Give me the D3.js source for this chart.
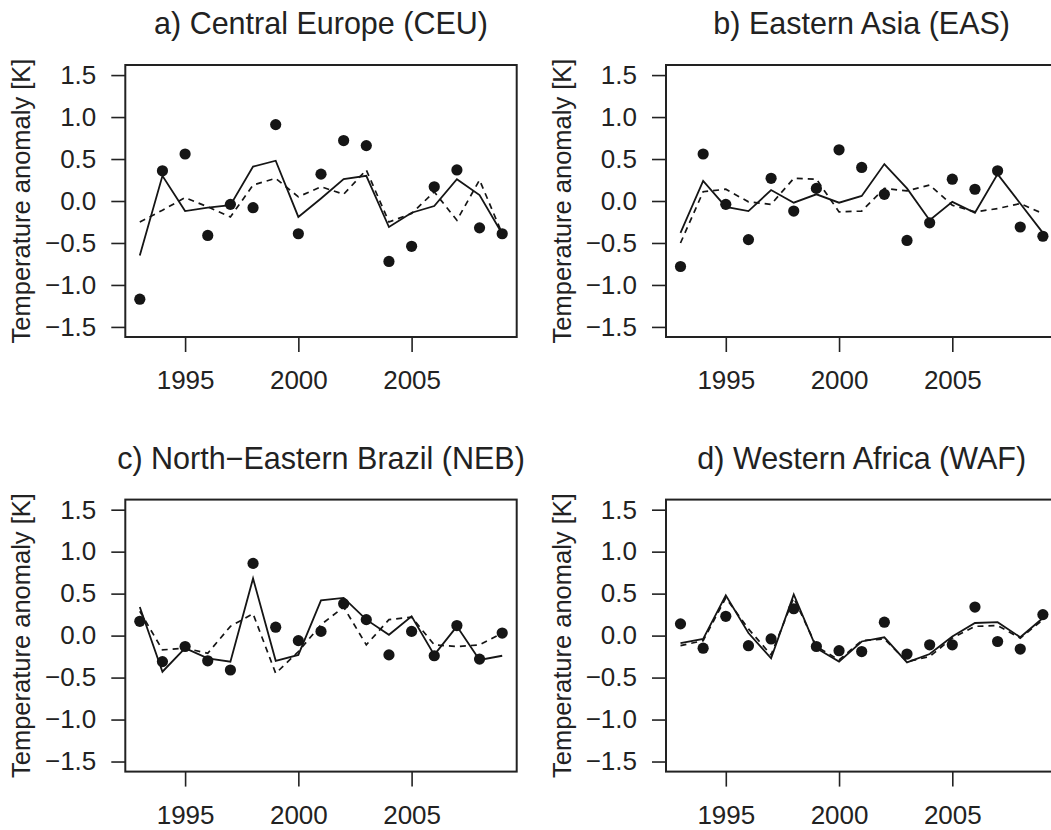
<!DOCTYPE html>
<html>
<head>
<meta charset="utf-8">
<title>Temperature anomaly panels</title>
<script src="https://d3js.org/d3.v7.min.js"></script>
<style>
  body { margin: 0; background: #fff; }
  svg text { font-family: "Liberation Sans", Arial, Helvetica, sans-serif; fill: #222; }
</style>
</head>
<body>
<div id="chart"></div>
<script>
// years shared by all four panels
var years = [1993, 1994, 1995, 1996, 1997, 1998, 1999, 2000, 2001,
             2002, 2003, 2004, 2005, 2006, 2007, 2008, 2009];

var titles = ["a) Central Europe (CEU)", "b) Eastern Asia (EAS)",
              "c) North\u2212Eastern Brazil (NEB)", "d) Western Africa (WAF)"];

// observed anomalies (dots)
var ceuObs = [-1.17, 0.36, 0.56, -0.41, -0.04, -0.08, 0.91, -0.39, 0.32, 0.72, 0.66, -0.72, -0.54, 0.17, 0.37, -0.32, -0.39];
var easObs = [-0.78, 0.56, -0.04, -0.46, 0.27, -0.12, 0.15, 0.61, 0.40, 0.08, -0.47, -0.26, 0.26, 0.14, 0.36, -0.31, -0.42];
var nebObs = [0.17, -0.31, -0.13, -0.30, -0.41, 0.86, 0.10, -0.06, 0.05, 0.38, 0.19, -0.23, 0.05, -0.24, 0.12, -0.28, 0.03];
var wafObs = [0.14, -0.15, 0.23, -0.12, -0.04, 0.32, -0.13, -0.18, -0.19, 0.16, -0.22, -0.11, -0.11, 0.34, -0.07, -0.16, 0.25];

// solid line
var ceuSolid = [-0.65, 0.30, -0.12, -0.08, -0.05, 0.41, 0.48, -0.19, 0.03, 0.26, 0.30, -0.31, -0.14, -0.06, 0.26, 0.07, -0.39];
var easSolid = [-0.38, 0.24, -0.07, -0.12, 0.13, -0.02, 0.08, -0.02, 0.06, 0.44, 0.15, -0.23, -0.01, -0.14, 0.32, -0.03, -0.38];
var nebSolid = [0.34, -0.43, -0.15, -0.27, -0.31, 0.68, -0.30, -0.23, 0.42, 0.45, 0.19, 0.01, 0.23, -0.23, 0.11, -0.29, -0.24];
var wafSolid = [-0.09, -0.04, 0.48, 0.03, -0.27, 0.49, -0.15, -0.31, -0.07, -0.02, -0.32, -0.22, -0.01, 0.15, 0.16, -0.02, 0.21];

// dashed line
var ceuDash = [-0.25, -0.11, 0.04, -0.07, -0.19, 0.19, 0.27, 0.05, 0.17, 0.08, 0.37, -0.25, -0.15, 0.11, -0.23, 0.25, -0.39];
var easDash = [-0.50, 0.11, 0.14, -0.01, -0.04, 0.27, 0.26, -0.13, -0.12, 0.15, 0.12, 0.19, -0.05, -0.13, -0.09, -0.03, -0.15];
var nebDash = [0.29, -0.17, -0.15, -0.21, 0.11, 0.26, -0.45, -0.19, 0.13, 0.34, -0.11, 0.19, 0.22, -0.11, -0.13, -0.11, 0.03];
var wafDash = [-0.12, -0.06, 0.45, 0.08, -0.23, 0.45, -0.13, -0.29, -0.06, -0.04, -0.31, -0.25, -0.03, 0.11, 0.12, -0.03, 0.19];

var yTicks = [-1.5, -1.0, -0.5, 0.0, 0.5, 1.0, 1.5];
var xTicks = [1995, 2000, 2005];
var yLabel = "Temperature anomaly [K]";

var panels = [
    { title: titles[0], obs: ceuObs, solid: ceuSolid, dash: ceuDash, left: 125.3, top: 65 },
    { title: titles[1], obs: easObs, solid: easSolid, dash: easDash, left: 666, top: 65 },
    { title: titles[2], obs: nebObs, solid: nebSolid, dash: nebDash, left: 125.3, top: 499.6 },
    { title: titles[3], obs: wafObs, solid: wafSolid, dash: wafDash, left: 666, top: 499.6 }
];

var width = 1051, height = 830;
var pw = 391.4, ph = 272;

var svg = d3.select("#chart").append("svg")
    .attr("width", width)
    .attr("height", height);

var x = d3.scaleLinear().domain([1992.36, 2009.64]).range([0, pw]);
var y = d3.scaleLinear().domain([-1.62, 1.62]).range([ph, 0]);

var line = d3.line()
    .x(function (d, i) { return x(years[i]); })
    .y(function (d) { return y(d); });

panels.forEach(function (p) {
    var g = svg.append("g")
        .attr("transform", "translate(" + p.left + "," + p.top + ")");

    // y axis
    var ya = g.append("g")
        .call(d3.axisLeft(y).tickValues(yTicks).tickSize(14).tickPadding(15)
            .tickFormat(d3.format(".1f")));
    ya.select(".domain").remove();
    ya.selectAll("line").attr("stroke", "#222").attr("stroke-width", 1.6);
    ya.selectAll("text").style("font-size", "26px");
    ya.attr("font-family", null).attr("font-size", null);

    // x axis
    var xa = g.append("g")
        .attr("transform", "translate(0," + ph + ")")
        .call(d3.axisBottom(x).tickValues(xTicks).tickSize(15).tickPadding(19)
            .tickFormat(d3.format("d")));
    xa.select(".domain").remove();
    xa.selectAll("line").attr("stroke", "#222").attr("stroke-width", 1.6);
    xa.selectAll("text").style("font-size", "26px");
    xa.attr("font-family", null).attr("font-size", null);

    // frame
    g.append("rect")
        .attr("width", pw).attr("height", ph)
        .attr("fill", "none")
        .attr("stroke", "#222")
        .attr("stroke-width", 2);

    // title
    g.append("text")
        .attr("x", pw / 2)
        .attr("y", -31)
        .attr("text-anchor", "middle")
        .style("font-size", "30.5px")
        .text(p.title);

    // y label
    g.append("text")
        .attr("transform", "translate(-95," + (ph / 2) + ") rotate(-90)")
        .attr("text-anchor", "middle")
        .style("font-size", "25.5px")
        .text(yLabel);

    g.append("path")
        .datum(p.dash)
        .attr("d", line)
        .attr("fill", "none")
        .attr("stroke", "#151515")
        .attr("stroke-width", 1.7)
        .attr("stroke-dasharray", "6,5");

    g.append("path")
        .datum(p.solid)
        .attr("d", line)
        .attr("fill", "none")
        .attr("stroke", "#151515")
        .attr("stroke-width", 1.8);

    g.selectAll("circle.obs")
        .data(p.obs)
        .enter().append("circle")
        .attr("class", "obs")
        .attr("cx", function (d, i) { return x(years[i]); })
        .attr("cy", function (d) { return y(d); })
        .attr("r", 5.6)
        .attr("fill", "#151515");
});
</script>
</body>
</html>
